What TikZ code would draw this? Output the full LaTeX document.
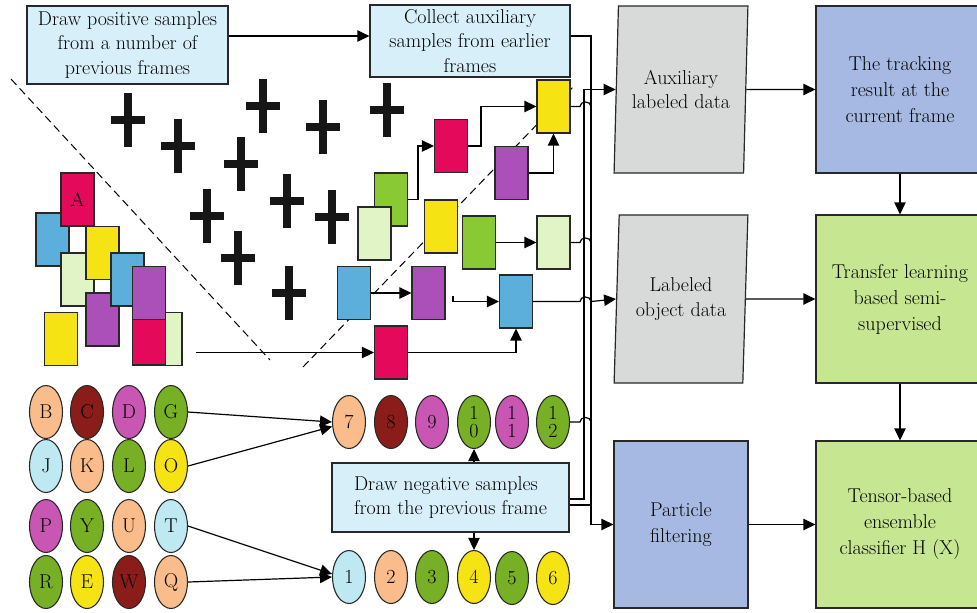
\documentclass[tikz,border=0pt]{standalone}
\usetikzlibrary{arrows.meta,shapes.geometric,calc}

\definecolor{inkgray}{RGB}{40,40,40}
\definecolor{crossink}{RGB}{22,22,22}
\definecolor{notefill}{RGB}{215,239,248}
\definecolor{cmag}{RGB}{229,9,92}
\definecolor{cblue}{RGB}{91,175,218}
\definecolor{cyel}{RGB}{245,227,19}
\definecolor{clgr}{RGB}{224,244,197}
\definecolor{cpur}{RGB}{171,80,184}
\definecolor{cgrn}{RGB}{136,201,52}
\definecolor{epeach}{RGB}{249,188,138}
\definecolor{ered}{RGB}{138,29,25}
\definecolor{emag}{RGB}{201,86,178}
\definecolor{egrn}{RGB}{119,176,37}
\definecolor{ecyan}{RGB}{190,232,242}
\definecolor{datagray}{RGB}{216,217,217}
\definecolor{stepblue}{RGB}{165,185,227}
\definecolor{stepgreen}{RGB}{199,230,145}

\tikzset{every picture/.style={line width=0.75pt}}
\tikzset{
card/.style={draw=inkgray, line width=0.8pt, inner sep=0pt,
  minimum width=24.75pt, minimum height=39.75pt, font=\fontsize{15}{16}\selectfont},
ball/.style={ellipse, draw=inkgray, line width=0.8pt, inner sep=0pt,
  minimum width=24.75pt, minimum height=39.75pt, align=center,
  font=\fontsize{15}{14}\selectfont},
note/.style={draw=inkgray, fill=notefill, line width=0.9pt, inner sep=0pt,
  align=center, font=\fontsize{15}{18.5}\selectfont},
datanode/.style={trapezium, trapezium left angle=85, trapezium right angle=95,
  trapezium stretches=true, draw=inkgray, fill=datagray, line width=0.9pt,
  inner sep=0pt, minimum width=100.5pt, minimum height=125.25pt,
  align=center, font=\fontsize{15}{18.5}\selectfont},
stage/.style={draw=inkgray, line width=0.9pt, inner sep=0pt, align=center,
  minimum height=125.25pt, font=\fontsize{15}{19.5}\selectfont},
arr/.style={-{Triangle[length=9pt,width=8.5pt]}, line width=0.9pt},
wire/.style={line width=0.9pt},
crossbar/.style={line width=6.5pt, color=crossink}
}

\begin{document}
\begin{tikzpicture}[x=0.75pt,y=0.75pt,yscale=-1,xscale=1]

\useasboundingbox (0,0) rectangle (977,612);

% CROSSES

\def\crosses{
    (128,120),
    (178,146),
    (263,106),
    (241,164),
    (323,127),
    (387,110),
    (207,216),
    (287,201),
    (332,217),
    (238,258),
    (289,293)
}

\foreach \p in \crosses{
    \draw [crossbar] \p ++(0,-27) -- ++(0,54) \p ++(-17,0) -- ++(34,0);
}

% DASHED BORDERS

\draw [dash pattern={on 6pt off 3.5pt}] (11,79) -- (270,360);
\draw [dash pattern={on 6pt off 3.5pt}] (303,367) -- (575,85);

% POSITIVE SAMPLES

\node [card, fill=cblue] (s2) at (52.5,239.5) {};
\node [card, fill=cmag]  (s1) at (77.5,199.5) {A};
\node [card, fill=clgr]  (s3) at (77.5,279.5) {};
\node [card, fill=cyel]  (s4) at (102.5,253) {};
\node [card, fill=cpur]  (s5) at (102.5,319.5) {};
\node [card, fill=cblue] (s6) at (127.5,279.5) {};
\node [card, fill=clgr]  (s7) at (165.5,339) {};
\node [card, fill=cmag]  (s8) at (149,338.5) {};
\node [card, fill=cpur]  (s9) at (149,293) {};
\node [card, fill=cyel]  (s10) at (61,339) {};

% AUXILIARY SAMPLES

\node [card, fill=cgrn]  (grn1) at (391,199.5) {};
\node [card, fill=clgr]  (lgr1) at (374.5,233.5) {};
\node [card, fill=cmag]  (mag1) at (451,146) {};
\node [card, fill=cyel]  (ylw1) at (553.5,106.5) {};
\node [card, fill=cpur]  (pur1) at (511.5,173) {};
\node [card, fill=cyel]  (ylw2) at (441,226.5) {};
\node [card, fill=cgrn]  (grn2) at (479,242.5) {};
\node [card, fill=clgr]  (lgr2) at (553.5,242.5) {};
\node [card, fill=cblue] (blu1) at (354,293) {};
\node [card, fill=cpur]  (pur2) at (428.5,293) {};
\node [card, fill=cblue] (blu2) at (516,301.5) {};
\node [card, fill=cmag]  (mag2) at (391,352.5) {};

% NEGATIVE SAMPLES

\node [ball, fill=epeach] (eB) at (46,412) {B};
\node [ball, fill=ered]   (eC) at (87,412) {C};
\node [ball, fill=emag]   (eD) at (129,412) {D};
\node [ball, fill=egrn]   (eG) at (171,412) {G};
\node [ball, fill=ecyan]  (eJ) at (46,466) {J};
\node [ball, fill=epeach] (eK) at (87,466) {K};
\node [ball, fill=egrn]   (eL) at (129,466) {L};
\node [ball, fill=cyel]   (eO) at (171,466) {O};
\node [ball, fill=emag]   (eP) at (46,526) {P};
\node [ball, fill=egrn]   (eY) at (87,526) {Y};
\node [ball, fill=epeach] (eU) at (129,526) {U};
\node [ball, fill=ecyan]  (eT) at (171,526) {T};
\node [ball, fill=egrn]   (eR) at (46,582) {R};
\node [ball, fill=cyel]   (eE) at (87,582) {E};
\node [ball, fill=ered]   (eW) at (129,582) {W};
\node [ball, fill=epeach] (eQ) at (171,582) {Q};

\node [ball, fill=epeach] (e7) at (349,422) {7};
\node [ball, fill=ered]   (e8) at (391,422) {8};
\node [ball, fill=emag]   (e9) at (432,422) {9};
\node [ball, fill=egrn]   (e10) at (474,422) {1\\0};
\node [ball, fill=emag]   (e11) at (512,422) {1\\1};
\node [ball, fill=egrn]   (e12) at (553,422) {1\\2};

\node [ball, fill=ecyan]  (e1) at (349,577) {1};
\node [ball, fill=epeach] (e2) at (391,577) {2};
\node [ball, fill=egrn]   (e3) at (432,577) {3};
\node [ball, fill=cyel]   (e4) at (474,577) {4};
\node [ball, fill=egrn]   (e5) at (512,578) {5};
\node [ball, fill=cyel]   (e6) at (553,578) {6};

% TEXT BOXES

\node [note, minimum width=150.75pt, minimum height=58.5pt] (pos) at (127.5,45)
  {Draw positive samples\\from a number of\\previous frames};
\node [note, minimum width=150pt, minimum height=54pt] (collect) at (470,41)
  {Collect auxiliary\\samples from earlier\\frames};
\node [note, minimum width=177.75pt, minimum height=51.75pt, align=left] (neg) at (450.5,497.5)
  {Draw negative samples\\from the previous frame};

% RIGHT BLOCKS

\node [datanode] (aux) at (681,89.5) {Auxiliary\\labeled data};
\node [datanode, minimum height=126pt] (obj) at (681,299) {Labeled\\object data};
\node [stage, fill=stepblue, minimum width=100.5pt] (part) at (681,524.5) {Particle\\filtering};
\node [stage, fill=stepblue, minimum width=126pt] (track) at (900,89.5) {The tracking\\result at the\\current frame};
\node [stage, fill=stepgreen, minimum width=126pt, minimum height=126pt] (trans) at (900,299) {Transfer learning\\based semi-\\supervised};
\node [stage, fill=stepgreen, minimum width=126pt] (tensor) at (900,524.5) {Tensor-based\\ensemble\\classifier H (X)};

% BUS LINES

\coordinate (hopA) at (580,0);
\coordinate (busA) at (584,0);
\coordinate (busB) at (591,0);
\coordinate (start) at (196,352.5);
\coordinate (stub) at (453,296);

% EDGES

\draw [arr] ($(pos.east)+(0,-9)$) -- ($(collect.west)+(0,-5)$);
\draw [arr] ($(collect.east)+(0,-5)$) -| (busB |- part.west) -- (part.west);
\draw [arr] ($(neg.east)+(0,1.5)$) -| (busA |- aux.west) -- (aux.west);
\draw [wire] ($(neg.east)+(0,7.5)$) -- ($(neg.east -| busB)+(0,7.5)$);

\draw [arr] (grn1.east) -- ++(10,0) |- (mag1.west);
\draw [arr] (mag1.east) -- ++(13,0) |- (ylw1.west);
\draw [arr] (pur1.east) -| (ylw1.south);
\draw [arr] (grn2.east) -- (lgr2.west);
\draw [arr] (blu1.east) -- (pur2.west);
\draw [arr] (stub) |- (blu2.west);
\draw [arr] (start) -- (mag2.west);
\draw [arr] (mag2.east) -| (blu2.south);

\draw [wire] (ylw1.east) -- (hopA |- ylw1.east) .. controls +(0,-6) and +(0,-6) .. (busB |- ylw1.east);
\draw [wire] (lgr2.east) -- (hopA |- lgr2.east) .. controls +(0,-6) and +(0,-6) .. (busB |- lgr2.east);
\draw [wire] (e12.east) -- (hopA |- e12.east) .. controls +(0,-6) and +(0,-6) .. (busB |- e12.east);
\draw [arr] (blu2.east) -- (hopA |- blu2.east) .. controls +(0,-6) and +(0,-6) .. (busB |- blu2.east) -- (obj.west);

\draw [arr] (eG.east) -- (e7.west);
\draw [arr] (eO.east) -- (e7.195);
\draw [arr] (eT.east) -- (e1.170);
\draw [arr] (eQ.east) -- (e1.west);

\draw [arr] (e10 |- neg.north) -- (e10.south);
\draw [arr] (e4 |- neg.south) -- (e4.north);

\draw [arr] (aux.east) -- (track.west);
\draw [arr] (obj.east) -- (trans.west);
\draw [arr] (part.east) -- (tensor.west);
\draw [arr] (track.south) -- (trans.north);
\draw [arr] (trans.south) -- (tensor.north);

\end{tikzpicture}
\end{document}
